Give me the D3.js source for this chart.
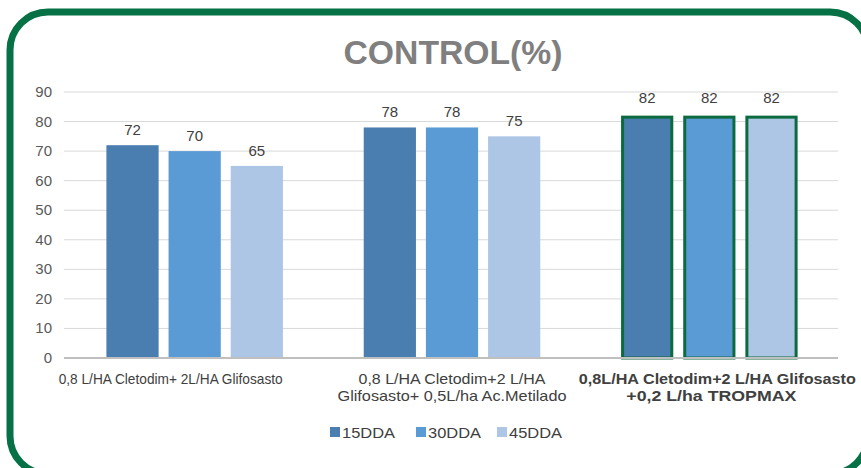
<!DOCTYPE html>
<html>
<head>
<meta charset="utf-8">
<style>
body { margin: 0; background: #fff; }
svg text { font-family: "Liberation Sans", Arial, sans-serif; }
</style>
</head>
<body>
<div id="chart"></div>
<script src="https://d3js.org/d3.v7.min.js"></script>
<script>
var categories = [
  ["0,8 L/HA Cletodim+ 2L/HA Glifosasto"],
  ["0,8 L/HA Cletodim+2 L/HA", "Glifosasto+ 0,5L/ha Ac.Metilado"],
  ["0,8L/HA Cletodim+2 L/HA Glifosasto", "+0,2 L/ha  TROPMAX"]
];
var seriesNames = ["15DDA", "30DDA", "45DDA"];
var seriesColors = ["#4a7eb0", "#5b9bd5", "#aec6e6"];
var dda15 = [72, 78, 82];
var dda30 = [70, 78, 82];
var dda45 = [65, 75, 82];
var yTicks = [0, 10, 20, 30, 40, 50, 60, 70, 80, 90];

var series = [dda15, dda30, dda45];
var width = 861, height = 468;

// label layout: center offset from group center and fitted width of each line
var labelShift = [[-24], [0, 0], [8, 2]];
var labelWidth = [[224], [187], [277, 170]];
labelWidth[1].push(229);

var svg = d3.select("#chart").append("svg")
    .attr("width", width)
    .attr("height", height);

// green rounded frame
svg.append("rect")
    .attr("x", 10).attr("y", 12)
    .attr("width", 858).attr("height", 462)
    .attr("rx", 38).attr("ry", 38)
    .style("fill", "#fff")
    .style("stroke", "#077146")
    .style("stroke-width", 7);

svg.append("text")
    .attr("x", 453).attr("y", 64)
    .attr("text-anchor", "middle")
    .attr("textLength", 219)
    .attr("lengthAdjust", "spacingAndGlyphs")
    .style("font-size", "33px")
    .style("font-weight", "bold")
    .style("fill", "#7f7f7f")
    .text("CONTROL(%)");

var x0 = d3.scaleBand()
    .domain(d3.range(categories.length))
    .range([66, 838]);

var x1 = d3.scaleBand()
    .domain(d3.range(seriesNames.length))
    .range([0, x0.bandwidth()])
    .paddingInner(0.16)
    .paddingOuter(0.65);

var y = d3.scaleLinear()
    .domain([0, 90])
    .range([358, 92]);

// gridlines
svg.append("g").selectAll("line")
    .data(yTicks.slice(1))
  .enter().append("line")
    .attr("x1", 64).attr("x2", 838)
    .attr("y1", function(d){ return y(d); })
    .attr("y2", function(d){ return y(d); })
    .style("stroke", "#d9d9d9")
    .style("stroke-width", 1);

svg.append("g").selectAll("text")
    .data(yTicks)
  .enter().append("text")
    .attr("x", 52)
    .attr("y", function(d){ return y(d) + 5; })
    .attr("text-anchor", "end")
    .style("font-size", "15px")
    .style("fill", "#595959")
    .text(function(d){ return d; });

// bars
series.forEach(function(vals, s){
  var g = svg.append("g");
  g.selectAll("rect")
      .data(vals)
    .enter().append("rect")
      .attr("x", function(d, i){ return x0(i) + x1(s) + (i == 2 ? 1.5 : 0); })
      .attr("y", function(d, i){ return y(d) + (i == 2 ? 1.5 : 0); })
      .attr("width", function(d, i){ return x1.bandwidth() - (i == 2 ? 3 : 0); })
      .attr("height", function(d, i){ return y(0) - y(d) - (i == 2 ? 1.5 : 0); })
      .style("fill", seriesColors[s])
      .style("stroke", function(d, i){ return i == 2 ? "#0b6b3e" : "none"; })
      .style("stroke-width", 3);

  g.selectAll("text")
      .data(vals)
    .enter().append("text")
      .attr("x", function(d, i){ return x0(i) + x1(s) + x1.bandwidth() / 2; })
      .attr("y", function(d, i){ return y(d) - (i == 2 ? 13 : 10); })
      .attr("text-anchor", "middle")
      .style("font-size", "15px")
      .style("fill", "#404040")
      .text(function(d){ return d; });
});

// axis line
svg.append("line")
    .attr("x1", 64).attr("x2", 838)
    .attr("y1", y(0)).attr("y2", y(0))
    .style("stroke", "#bfbfbf")
    .style("stroke-width", 2);

// category labels
categories.forEach(function(lines, i){
  lines.forEach(function(l, k){
    svg.append("text")
      .attr("x", x0(i) + x0.bandwidth() / 2 + labelShift[i][k])
      .attr("y", 384 + k * 17)
      .attr("text-anchor", "middle")
      .attr("textLength", labelWidth[i][k])
      .attr("lengthAdjust", "spacingAndGlyphs")
      .style("font-size", "15px")
      .style("fill", "#404040")
      .style("font-weight", i == 2 ? "bold" : "normal")
      .text(l);
  });
});

// legend
var legend = svg.append("g");
var lx = [330, 416, 497];
seriesNames.forEach(function(n, s){
  legend.append("rect")
    .attr("x", lx[s]).attr("y", 427)
    .attr("width", 10).attr("height", 10)
    .style("fill", seriesColors[s]);
  legend.append("text")
    .attr("x", lx[s] + 12).attr("y", 438)
    .attr("textLength", 53)
    .attr("lengthAdjust", "spacingAndGlyphs")
    .style("font-size", "15.5px")
    .style("fill", "#404040")
    .text(n);
});
</script>
</body>
</html>
